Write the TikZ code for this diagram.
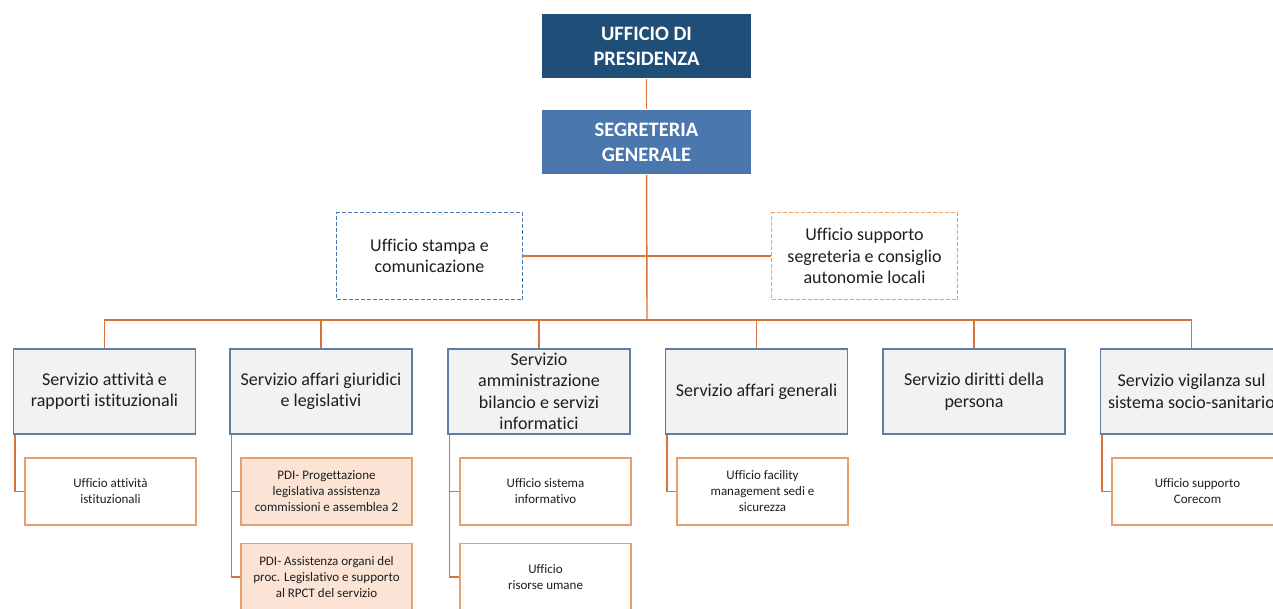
\documentclass[tikz,border=0pt]{standalone}
\usepackage{fontspec}
\setmainfont{Carlito}[Ligatures=NoCommon]
\definecolor{presblue}{HTML}{1F4E79}
\definecolor{segblue}{HTML}{4A78AE}
\definecolor{servborder}{HTML}{5B7FA5}
\definecolor{servfill}{HTML}{F2F2F2}
\definecolor{uffborder}{HTML}{E8A06A}
\definecolor{linkorange}{HTML}{D5743B}
\definecolor{pdifill}{HTML}{FBE4D5}
\definecolor{dashorange}{HTML}{F0A060}
\definecolor{textgray}{HTML}{1E1E1E}

\begin{document}
\begin{tikzpicture}[x=1pt,y=-1pt]
                \tikzstyle{vertice}=[rectangle,line width=1.8pt,minimum width=209pt,minimum height=64pt,inner sep=0pt,align=center,text=white,font=\fontsize{20.5}{25}\selectfont\bfseries]
                \tikzstyle{servizio}=[rectangle,draw=servborder,fill=servfill,line width=1.8pt,minimum width=182pt,minimum height=85pt,inner sep=0pt,align=center,text=textgray,font=\fontsize{18}{21.5}\selectfont]
                \tikzstyle{staff}=[rectangle,dash pattern=on 4pt off 2pt,line width=1.8pt,minimum width=186pt,minimum height=87pt,inner sep=0pt,align=center,text=textgray,font=\fontsize{18}{21.5}\selectfont]
                \tikzstyle{ufficio}=[rectangle,draw=uffborder,fill=white,line width=1.8pt,minimum width=171pt,minimum height=67pt,inner sep=0pt,align=center,text=textgray,font=\fontsize{13}{16}\selectfont]
                \tikzstyle{link}=[draw=linkorange,line width=1.4pt]
                \useasboundingbox (0,0) rectangle (1273,608);
                \clip (0,0) rectangle (1273,608);

                % vertice
                \node[vertice,fill=presblue] (UP) at (646.5,46) {UFFICIO DI\\PRESIDENZA};
                \node[vertice,fill=segblue] (SG) at (646.5,142) {SEGRETERIA\\GENERALE};
                \node[staff,draw=segblue] (US) at (429.5,256) {Ufficio stampa e\\comunicazione};
                \node[staff,draw=dashorange] (USS) at (864.5,256) {Ufficio supporto\\segreteria e consiglio\\autonomie locali};
                \coordinate (bus) at (647,320);

                % servizi
                \foreach \num/\x/\testo in {1/104.5/{Servizio attività e\\rapporti istituzionali},
                    2/321/{Servizio affari giuridici\\e legislativi},
                    3/539/{Servizio\\amministrazione\\bilancio e servizi\\informatici},
                    4/756.5/{Servizio affari generali},
                    5/974/{Servizio diritti della\\persona},
                    6/1191.5/{Servizio vigilanza sul\\sistema socio-sanitario}}
                    \node[servizio] (S-\num) at (\x,391.5) {\testo};

                % uffici
                \node[ufficio] (U-1) at (110.5,491.5) {Ufficio attività\\istituzionali};
                \node[ufficio,fill=pdifill] (U-2a) at (326.5,491.5) {PDI- Progettazione\\legislativa assistenza\\commissioni e assemblea 2};
                \node[ufficio,fill=pdifill] (U-2b) at (326.5,577) {PDI- Assistenza organi del\\proc. Legislativo e supporto\\al RPCT del servizio};
                \node[ufficio] (U-3a) at (545.5,491.5) {Ufficio sistema\\informativo};
                \node[ufficio] (U-3b) at (545.5,577) {Ufficio\\risorse umane};
                \node[ufficio] (U-4) at (762.5,491.5) {Ufficio facility\\management sedi e\\sicurezza};
                \node[ufficio] (U-6) at (1197.5,491.5) {Ufficio supporto\\Corecom};

                % collegamenti
                \draw[link] (UP) -- (SG);
                \draw[link] (SG) -- (bus);
                \draw[link] (US) -- (USS);
                \foreach \num in {1,...,6}
                    \draw[link] (S-\num.north) |- (bus);
                \foreach \from/\to in {1/1, 2/2a, 2/2b, 3/3a, 3/3b, 4/4, 6/6}
                    \draw[link] ([xshift=2.5pt]S-\from.south west) |- (U-\to.west);
\end{tikzpicture}
\end{document}
